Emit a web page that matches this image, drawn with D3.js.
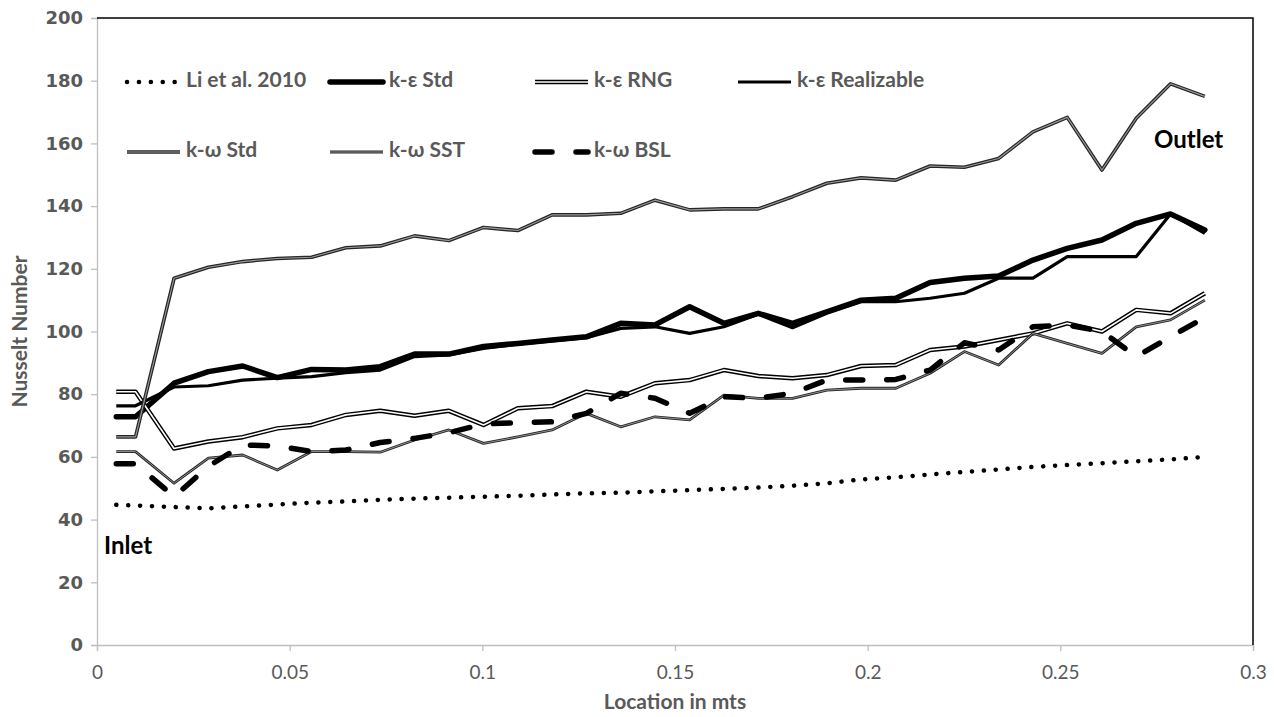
<!DOCTYPE html>
<html>
<head>
<meta charset="utf-8">
<script src="https://cdn.jsdelivr.net/npm/d3@7"></script>
<style>
  body { margin: 0; background: #fff; }
  svg { display: block; }
</style>
</head>
<body>
<svg id="chart" width="1274" height="717"></svg>
<script>
// location along the duct (m)
const locations = [0.005, 0.01, 0.02, 0.0289, 0.0378, 0.0468, 0.0557, 0.0646, 0.0735, 0.0824,
  0.0913, 0.1003, 0.1092, 0.1181, 0.127, 0.1359, 0.1448, 0.1538, 0.1627, 0.1716,
  0.1805, 0.1894, 0.1983, 0.2073, 0.2162, 0.2251, 0.234, 0.2429, 0.2518, 0.2608,
  0.2697, 0.2786, 0.2875];

const liEtAl = [44.7, 44.5, 44.0, 43.6, 44.2, 44.8, 45.4, 45.8, 46.3, 46.7,
  47.0, 47.3, 47.6, 48.0, 48.4, 48.6, 49.0, 49.4, 49.8, 50.2,
  50.8, 51.6, 52.8, 53.5, 54.4, 55.2, 56.0, 56.8, 57.4, 58.0,
  58.6, 59.2, 60.0];
const keStd = [72.8, 72.8, 83.5, 87.2, 89.0, 85.3, 87.9, 87.7, 88.8, 92.8,
  92.8, 95.2, 96.2, 97.3, 98.3, 102.6, 102.1, 107.9, 102.6, 105.8,
  102.6, 106.3, 110.0, 110.6, 115.6, 117.0, 117.7, 122.8, 126.5, 129.2,
  134.5, 137.5, 132.4];
const keRng = [80.8, 80.8, 62.7, 64.9, 66.3, 69.1, 70.2, 73.4, 74.7, 73.1,
  74.7, 70.2, 75.5, 76.2, 80.8, 79.2, 83.5, 84.5, 87.7, 85.8,
  85.1, 86.1, 89.0, 89.3, 94.1, 95.2, 97.3, 99.4, 102.6, 100.0,
  106.9, 105.8, 112.2];
const keRealizable = [76.3, 76.3, 82.3, 82.7, 84.5, 85.1, 85.6, 86.9, 87.7, 92.0,
  92.5, 94.6, 96.0, 97.0, 98.0, 101.0, 101.5, 99.4, 101.5, 105.5,
  101.2, 105.8, 109.5, 109.5, 110.6, 112.2, 117.0, 117.0, 123.9, 123.9,
  123.9, 137.5, 131.3];
const kwStd = [66.4, 66.4, 117.0, 120.5, 122.3, 123.3, 123.7, 126.7, 127.3, 130.5,
  129.0, 133.2, 132.2, 137.2, 137.2, 137.7, 141.9, 138.8, 139.1, 139.1,
  143.0, 147.3, 149.0, 148.3, 152.8, 152.4, 155.2, 163.7, 168.3, 151.5,
  168.0, 179.0, 175.0];
const kwSst = [61.7, 61.7, 51.6, 59.6, 60.6, 55.8, 61.7, 61.7, 61.5, 65.4,
  68.6, 64.3, 66.4, 68.6, 73.9, 69.6, 72.8, 71.8, 79.7, 78.7,
  78.7, 81.3, 81.9, 81.9, 86.7, 93.6, 89.3, 99.4, 96.2, 93.0,
  101.5, 103.7, 110.0];
const kwBsl = [57.8, 57.8, 47.3, 57.0, 63.8, 63.5, 61.7, 62.2, 64.6, 65.9,
  67.7, 70.5, 70.9, 71.2, 73.9, 80.3, 78.7, 73.9, 79.2, 78.7,
  80.3, 84.5, 84.5, 84.7, 87.7, 96.4, 94.1, 101.5, 102.1, 100.0,
  92.0, 98.3, 104.5];

const seriesNames = ["Li et al. 2010", "k-ε Std", "k-ε RNG", "k-ε Realizable", "k-ω Std", "k-ω SST", "k-ω BSL"];
const xTicks = [0, 0.05, 0.1, 0.15, 0.2, 0.25, 0.3];
const yTicks = [0, 20, 40, 60, 80, 100, 120, 140, 160, 180, 200];

// drawing styles per series (outer stroke, optional inner stroke for compound lines)
const styles = {
  "Li et al. 2010": { stroke: "#000", width: 4.5, dash: "0.1 11.8", cap: "round" },
  "k-ε Std": { stroke: "#000", width: 5.5, cap: "round" },
  "k-ε RNG": { stroke: "#000", width: 4.5, inner: "#fff", innerWidth: 1.6 },
  "k-ε Realizable": { stroke: "#000", width: 3.2 },
  "k-ω Std": { stroke: "#262626", width: 3.6, inner: "#9a9a9a", innerWidth: 1.1 },
  "k-ω SST": { stroke: "#262626", width: 2.8, inner: "#ababab", innerWidth: 0.8 },
  "k-ω BSL": { stroke: "#000", width: 5.5, dash: "17 24", cap: "round" }
};

const series = [liEtAl, keStd, keRng, keRealizable, kwStd, kwSst, kwBsl].map((vals, i) => ({
  name: seriesNames[i],
  points: vals.map((v, j) => [locations[j], v])
}));

const svg = d3.select("#chart");
const plot = { left: 97, right: 1253, top: 18, bottom: 645 };

const x = d3.scaleLinear().domain([0, 0.3]).range([plot.left, plot.right]);
const y = d3.scaleLinear().domain([0, 200]).range([plot.bottom, plot.top]);

const grey = "#595959";

// y axis
const yAxis = svg.append("g")
  .attr("transform", `translate(${plot.left},0)`)
  .call(d3.axisLeft(y).tickValues(yTicks).tickSize(6).tickPadding(8).tickFormat(d3.format("d")));
yAxis.select(".domain").attr("stroke", "#bfbfbf").attr("stroke-width", 1.3);
yAxis.selectAll(".tick line").attr("stroke", "#bfbfbf").attr("stroke-width", 1.3);
yAxis.selectAll(".tick text")
  .attr("fill", grey)
  .style("font-family", "'DejaVu Sans', sans-serif")
  .style("font-weight", "bold")
  .style("font-size", "18px");

// x axis
const xAxis = svg.append("g")
  .attr("transform", `translate(0,${plot.bottom})`)
  .call(d3.axisBottom(x).tickValues(xTicks).tickSize(6).tickPadding(15).tickFormat(d => d3.format("")(d)));
xAxis.select(".domain").attr("stroke", "#bfbfbf").attr("stroke-width", 1.3);
xAxis.selectAll(".tick line").attr("stroke", "#bfbfbf").attr("stroke-width", 1.3);
xAxis.selectAll(".tick text")
  .attr("fill", grey)
  .style("font-family", "Lato, sans-serif")
  .style("font-size", "19px");

// black frame top and right
svg.append("path")
  .attr("d", `M${plot.left},${plot.top}H${plot.right}V${plot.bottom}`)
  .attr("fill", "none")
  .attr("stroke", "#000")
  .attr("stroke-width", 1.5);

// axis titles
svg.append("text")
  .attr("transform", `translate(22,${(plot.top + plot.bottom) / 2}) rotate(-90)`)
  .attr("text-anchor", "middle")
  .attr("dominant-baseline", "middle")
  .attr("fill", grey)
  .style("font-family", "Lato, sans-serif")
  .style("font-weight", "bold")
  .style("font-size", "21px")
  .text("Nusselt Number");

svg.append("text")
  .attr("x", (plot.left + plot.right) / 2)
  .attr("y", 704)
  .attr("text-anchor", "middle")
  .attr("dominant-baseline", "middle")
  .attr("fill", grey)
  .style("font-family", "Lato, sans-serif")
  .style("font-weight", "bold")
  .style("font-size", "21px")
  .text("Location in mts");

// lines
const line = d3.line().x(d => x(d[0])).y(d => y(d[1]));

function drawStroke(sel, st) {
  sel.attr("fill", "none")
    .attr("stroke", st.stroke)
    .attr("stroke-width", st.width)
    .attr("stroke-linejoin", "round")
    .attr("stroke-linecap", st.cap || "butt")
    .attr("stroke-dasharray", st.dash || null);
}

const lineGroup = svg.append("g");
series.forEach(s => {
  const st = styles[s.name];
  lineGroup.append("path").datum(s.points).attr("d", line).call(drawStroke, st);
  if (st.inner) {
    lineGroup.append("path").datum(s.points).attr("d", line)
      .attr("fill", "none")
      .attr("stroke", st.inner)
      .attr("stroke-width", st.innerWidth)
      .attr("stroke-linejoin", "round");
  }
});

// legend
const legendCols = [127, 330, 535, 738];
const legendRows = [82, 152];
const legend = svg.append("g");
seriesNames.forEach((name, i) => {
  const col = i < 4 ? i : i - 4;
  const row = i < 4 ? 0 : 1;
  const lx = legendCols[col], ly = legendRows[row];
  const st = styles[name];
  const g = legend.append("g");
  g.append("line")
    .attr("x1", lx).attr("x2", lx + 53).attr("y1", ly).attr("y2", ly)
    .call(drawStroke, st);
  if (st.inner) {
    g.append("line")
      .attr("x1", lx).attr("x2", lx + 53).attr("y1", ly).attr("y2", ly)
      .attr("stroke", st.inner).attr("stroke-width", st.innerWidth);
  }
  g.append("text")
    .attr("x", lx + 59)
    .attr("y", ly)
    .attr("dominant-baseline", "middle")
    .attr("fill", grey)
    .style("font-family", "Lato, sans-serif")
    .style("font-weight", "bold")
    .style("font-size", "21px")
    .text(name);
});

// Inlet / Outlet labels
svg.append("text")
  .attr("x", 104).attr("y", 548)
  .attr("dominant-baseline", "middle")
  .style("font-family", "Lato, sans-serif")
  .style("font-weight", "bold")
  .style("font-size", "24px")
  .attr("fill", "#000")
  .text("Inlet");
svg.append("text")
  .attr("x", 1154).attr("y", 142)
  .attr("dominant-baseline", "middle")
  .style("font-family", "Lato, sans-serif")
  .style("font-weight", "bold")
  .style("font-size", "24px")
  .attr("fill", "#000")
  .text("Outlet");
</script>
</body>
</html>
